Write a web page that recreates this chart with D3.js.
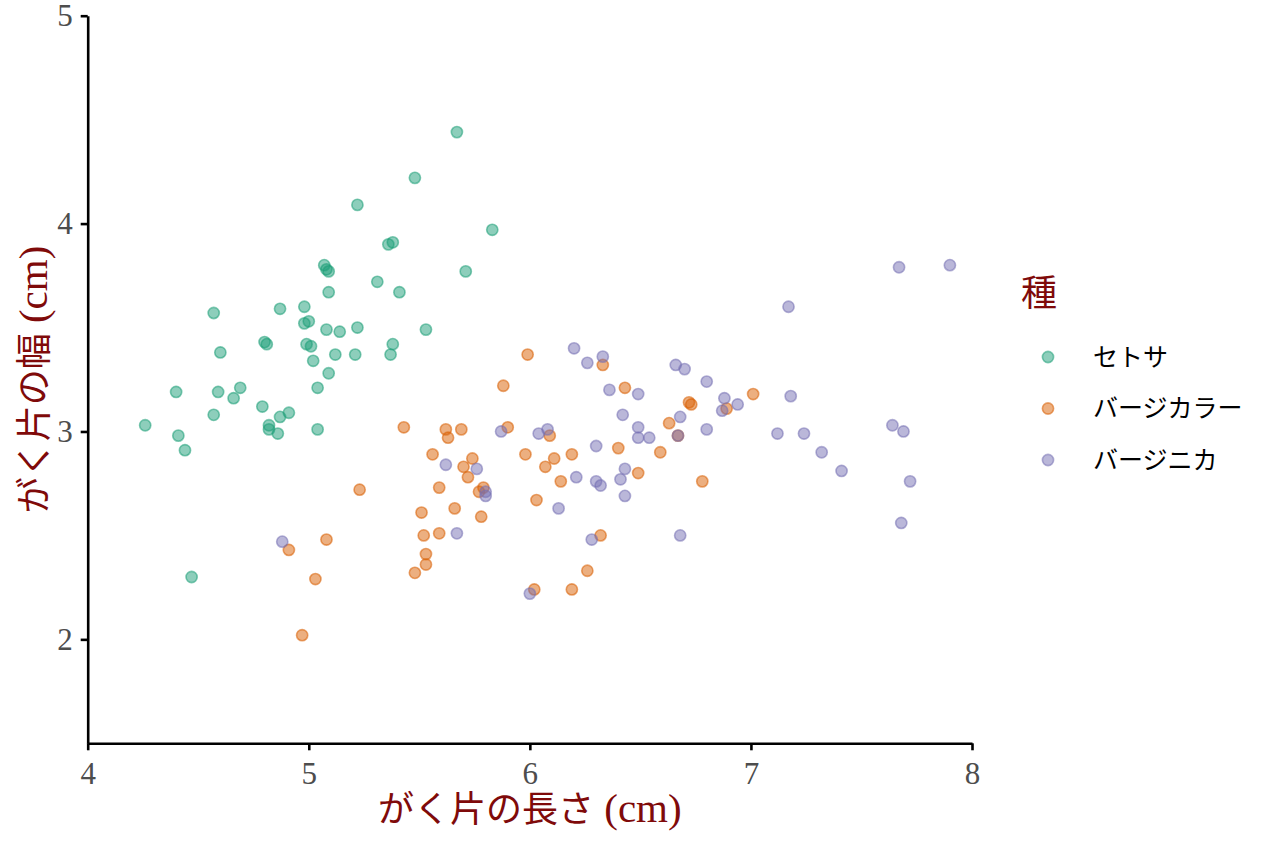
<!DOCTYPE html>
<html>
<head>
<meta charset="utf-8">
<script src="https://cdn.jsdelivr.net/npm/d3@7"></script>
<style>
  body { margin: 0; background: #fff; }
</style>
</head>
<body>
<div id="chart"></div>
<script>
const species = ["セトサ", "バージカラー", "バージニカ"];
const speciesColors = ["#1B9E77", "#D95F02", "#7570B3"];

const setosaLength = [5.67, 5.48, 5.22, 5.83, 5.36, 5.38, 5.07, 5.08, 5.09, 5.71,
  5.31, 5.09, 5.41, 4.57, 4.87, 4.98, 4.98, 5.00, 5.08, 5.14,
  5.22, 5.53, 4.80, 4.81, 4.99, 5.01, 5.38, 4.60, 5.12, 5.21,
  5.37, 5.02, 5.09, 5.04, 4.40, 4.59, 4.69, 4.66, 4.79, 4.57,
  4.87, 4.91, 4.26, 4.82, 4.82, 4.86, 5.04, 4.41, 4.44, 4.47];
const setosaWidth = [4.44, 4.22, 4.09, 3.97, 3.90, 3.91, 3.80, 3.78, 3.77, 3.77,
  3.72, 3.67, 3.67, 3.57, 3.59, 3.60, 3.52, 3.53, 3.49, 3.48,
  3.50, 3.49, 3.43, 3.42, 3.42, 3.41, 3.42, 3.38, 3.37, 3.37,
  3.37, 3.34, 3.28, 3.21, 3.19, 3.19, 3.21, 3.16, 3.12, 3.08,
  3.07, 3.09, 3.03, 3.03, 3.01, 2.99, 3.01, 2.98, 2.91, 2.30];

const versicolorLength = [5.99, 5.88, 6.33, 6.43, 6.72, 6.73, 7.01, 6.89, 5.90, 6.09,
  6.63, 5.98, 6.11, 6.19, 6.07, 6.40, 6.59, 6.14, 6.49, 6.78,
  6.03, 6.67, 6.32, 6.26, 6.02, 6.19, 5.43, 5.62, 5.63, 5.69,
  5.56, 5.74, 5.70, 5.72, 5.59, 5.79, 5.77, 5.51, 5.66, 5.78,
  5.23, 5.52, 5.59, 5.08, 4.91, 5.53, 5.53, 5.48, 5.03, 4.97];
const versicolorWidth = [3.37, 3.22, 3.32, 3.21, 3.14, 3.13, 3.18, 3.11, 3.02, 2.98,
  3.04, 2.89, 2.87, 2.89, 2.83, 2.92, 2.90, 2.76, 2.80, 2.76,
  2.67, 2.98, 2.50, 2.33, 2.24, 2.24, 3.02, 3.01, 2.97, 3.01,
  2.89, 2.87, 2.83, 2.78, 2.73, 2.73, 2.71, 2.61, 2.63, 2.59,
  2.72, 2.50, 2.51, 2.48, 2.43, 2.41, 2.36, 2.32, 2.29, 2.02];

const virginicaLength = [6.20, 6.26, 6.33, 6.66, 6.70, 6.80, 6.36, 6.49, 6.88, 6.94,
  6.87, 6.42, 6.68, 5.87, 6.04, 6.08, 6.49, 6.49, 6.54, 6.67,
  6.80, 6.30, 6.21, 6.30, 6.32, 6.43, 6.41, 6.43, 6.13, 6.28,
  6.68, 6.00, 5.62, 5.76, 5.80, 5.80, 5.67, 4.88, 7.67, 7.90,
  7.17, 7.18, 7.12, 7.24, 7.32, 7.41, 7.64, 7.69, 7.72, 7.68];
const virginicaWidth = [3.40, 3.33, 3.36, 3.32, 3.30, 3.24, 3.20, 3.18, 3.16, 3.13,
  3.10, 3.08, 3.07, 3.00, 2.99, 3.01, 3.02, 2.97, 2.97, 2.98,
  3.01, 2.93, 2.78, 2.76, 2.74, 2.82, 2.77, 2.69, 2.63, 2.48,
  2.50, 2.22, 2.84, 2.82, 2.71, 2.69, 2.51, 2.47, 3.79, 3.80,
  3.60, 3.17, 2.99, 2.99, 2.90, 2.81, 3.03, 3.00, 2.76, 2.56];

const xTicks = [4, 5, 6, 7, 8];
const yTicks = [2, 3, 4, 5];

const xTitle = ["がく片の長さ", " (cm)"];
const yTitle = ["がく片の幅", " (cm)"];
const legendTitle = "種";

function createScatter() {
  const lengths = [setosaLength, versicolorLength, virginicaLength];
  const widths = [setosaWidth, versicolorWidth, virginicaWidth];
  const data = [];
  species.forEach((s, i) => {
    lengths[i].forEach((v, j) => {
      data.push({ species: s, length: v, width: widths[i][j] });
    });
  });

  const margin = { top: 15.7, right: 292, bottom: 104.7, left: 87.7 };
  const width = 1264 - margin.left - margin.right;
  const height = 848 - margin.top - margin.bottom;
  const serif = "'Liberation Serif', 'Noto Sans CJK JP', serif";
  const titleColor = "#7F0A0A";

  const root = d3
    .select("#chart")
    .append("svg")
    .attr("width", 1264)
    .attr("height", 848);

  const svg = root
    .append("g")
    .attr("transform", `translate(${margin.left},${margin.top})`);

  const x = d3.scaleLinear([4, 8], [0, width]);
  const y = d3.scaleLinear([1.5, 5], [height, 0]);
  const color = d3.scaleOrdinal(species, speciesColors);

  const xAxis = svg
    .append("g")
    .attr("transform", `translate(0,${height})`)
    .call(
      d3.axisBottom(x).tickValues(xTicks).tickFormat(d3.format("d"))
        .tickSize(7).tickSizeOuter(0).tickPadding(12),
    );

  const yAxis = svg
    .append("g")
    .call(
      d3.axisLeft(y).tickValues(yTicks).tickFormat(d3.format("d"))
        .tickSize(7).tickSizeOuter(0).tickPadding(8),
    );

  [xAxis, yAxis].forEach((a) => {
    a.select(".domain").attr("stroke", "#000").attr("stroke-width", 2.6);
    a.selectAll(".tick line").attr("stroke", "#000").attr("stroke-width", 2.6);
    a.selectAll(".tick text")
      .attr("fill", "#4D4D4D")
      .style("font-family", serif)
      .style("font-size", "31px");
  });

  svg
    .selectAll("circle.pt")
    .data(data)
    .enter()
    .append("circle")
    .attr("class", "pt")
    .attr("cx", (d) => x(d.length))
    .attr("cy", (d) => y(d.width))
    .attr("r", 5.6)
    .attr("fill", (d) => color(d.species))
    .attr("fill-opacity", 0.5)
    .attr("stroke", (d) => color(d.species))
    .attr("stroke-opacity", 0.55)
    .attr("stroke-width", 1.6);

  // axis titles, latin part a bit bigger like the original font
  const xt = root
    .append("text")
    .attr("x", margin.left + width / 2)
    .attr("y", 822)
    .attr("text-anchor", "middle")
    .attr("fill", titleColor)
    .style("font-family", serif)
    .style("font-size", "36px");
  xt.append("tspan").text(xTitle[0]);
  xt.append("tspan").style("font-size", "41px").text(xTitle[1]);

  const yt = root
    .append("text")
    .attr("transform", `translate(46.5,${margin.top + height / 2}) rotate(-90)`)
    .attr("text-anchor", "middle")
    .attr("fill", titleColor)
    .style("font-family", serif)
    .style("font-size", "36px");
  yt.append("tspan").text(yTitle[0]);
  yt.append("tspan").style("font-size", "41px").text(yTitle[1]);

  // legend
  const legend = root.append("g").attr("transform", "translate(1021,0)");
  legend
    .append("text")
    .attr("x", 0)
    .attr("y", 306)
    .attr("fill", titleColor)
    .style("font-family", serif)
    .style("font-size", "36px")
    .text(legendTitle);

  const item = legend
    .selectAll("g.item")
    .data(species)
    .enter()
    .append("g")
    .attr("class", "item")
    .attr("transform", (d, i) => `translate(0,${357 + i * 51.5})`);

  item
    .append("circle")
    .attr("cx", 27)
    .attr("cy", 0)
    .attr("r", 5.6)
    .attr("fill", (d) => color(d))
    .attr("fill-opacity", 0.5)
    .attr("stroke", (d) => color(d))
    .attr("stroke-opacity", 0.55)
    .attr("stroke-width", 1.6);

  item
    .append("text")
    .attr("x", 72)
    .attr("y", 0)
    .attr("dominant-baseline", "central")
    .attr("fill", "#000")
    .style("font-family", serif)
    .style("font-size", "25px")
    .text((d) => d);
}

window.addEventListener("load", createScatter);
</script>
</body>
</html>
